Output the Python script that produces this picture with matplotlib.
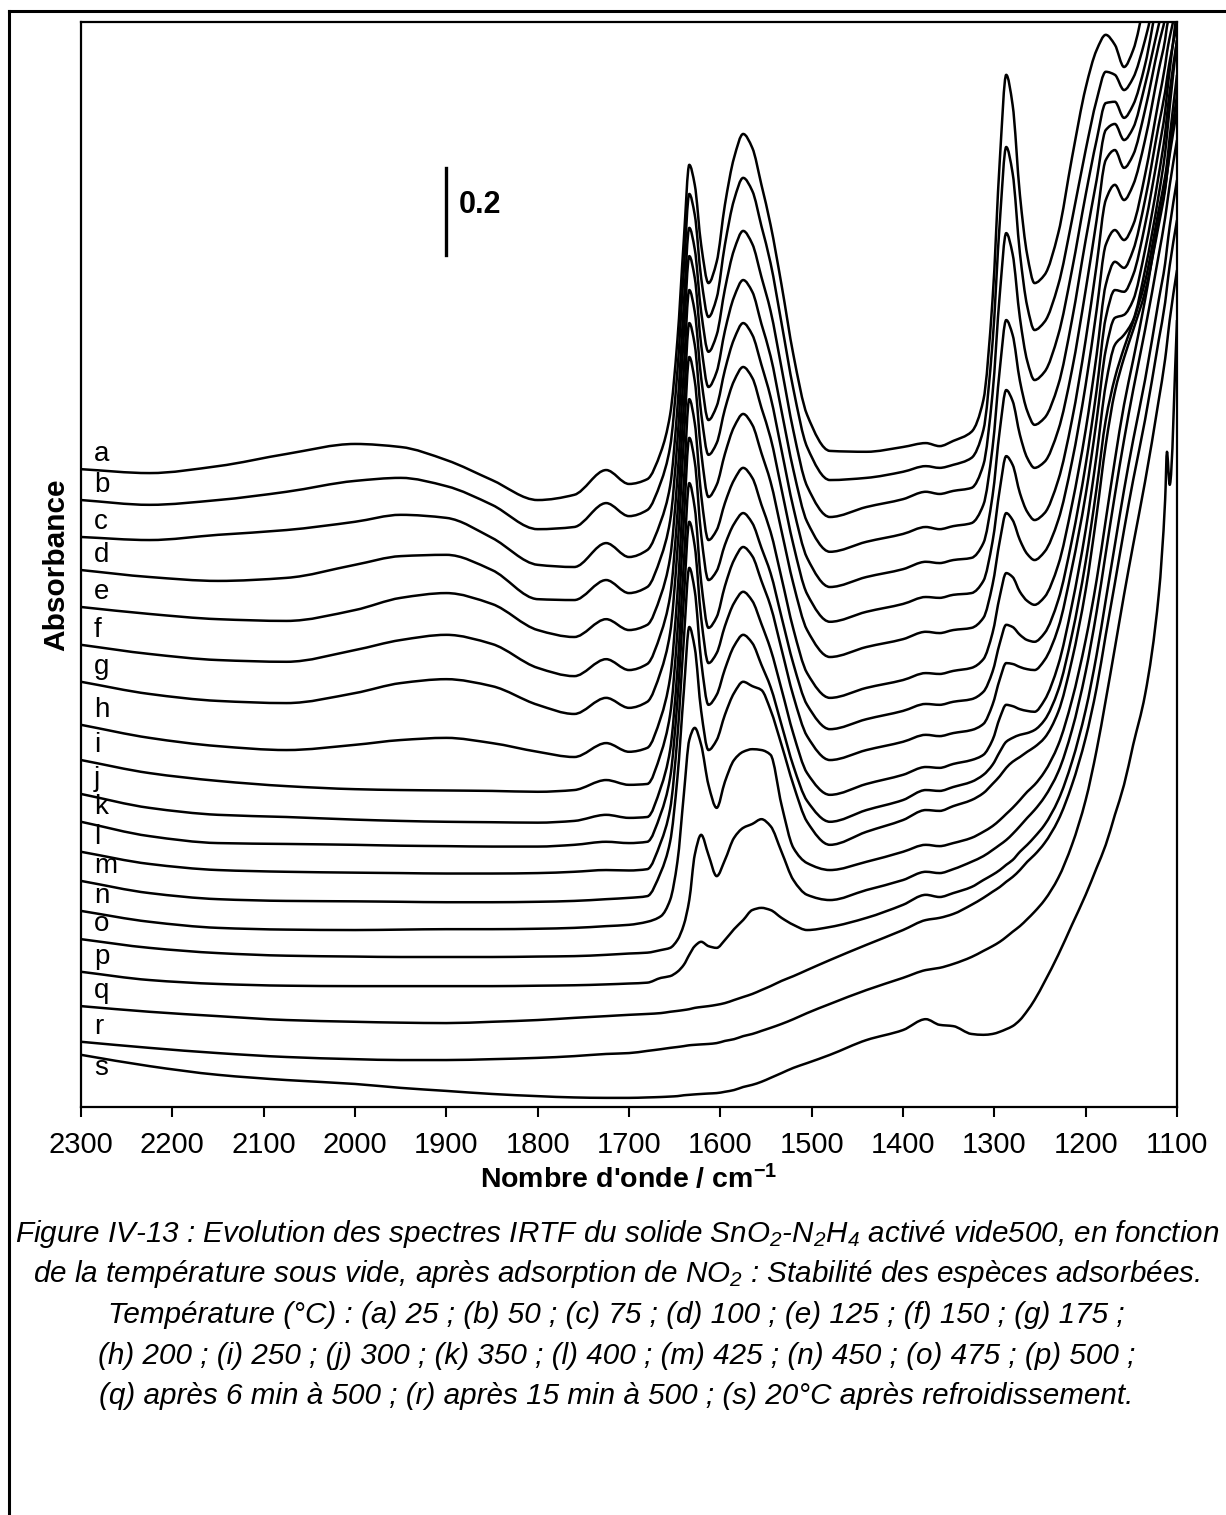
import numpy as np
import matplotlib
matplotlib.use("Agg")
import matplotlib.pyplot as plt
from matplotlib.lines import Line2D
from matplotlib.path import Path
from matplotlib.patches import PathPatch

plt.rcParams['font.family'] = ['Liberation Sans', 'DejaVu Sans']
plt.rcParams['mathtext.fontset'] = 'custom'
plt.rcParams['mathtext.rm'] = 'Liberation Sans:italic'
plt.rcParams['mathtext.it'] = 'Liberation Sans:italic'
plt.rcParams['mathtext.bf'] = 'Liberation Sans:bold'

# wavenumber grid (cm-1)
wavenumber = [2300, 2225, 2150, 2075, 2000, 1950, 1900, 1850, 1800, 1760,
              1725, 1700, 1680, 1665, 1655, 1647, 1640, 1634, 1628, 1621,
              1613, 1604, 1595, 1585, 1575, 1565, 1555, 1545, 1533, 1520,
              1505, 1480, 1440, 1400, 1375, 1360, 1345, 1325, 1312, 1302,
              1294, 1287, 1280, 1272, 1264, 1256, 1245, 1230, 1215, 1200,
              1188, 1178, 1168, 1158, 1148, 1135, 1120, 1113, 1111, 1108, 1100]

# offset spectra, absorbance in mAbs
a = [1467, 1458, 1474, 1502, 1525, 1518, 1488, 1442, 1396, 1408,
     1465, 1433, 1444, 1507, 1592, 1764, 1994, 2167, 2121, 1983,
     1895, 1944, 2075, 2183, 2238, 2206, 2121, 2029, 1891, 1730,
     1592, 1509, 1507, 1518, 1527, 1520, 1532, 1553, 1626, 1856,
     2178, 2374, 2305, 2098, 1960, 1895, 1914, 2010, 2183, 2344,
     2431, 2466, 2443, 2392, 2431, 2546, 2684, 2750, 2770, 2790, 2868]
b = [1396, 1385, 1396, 1415, 1440, 1447, 1428, 1385, 1329, 1334,
     1389, 1359, 1373, 1438, 1518, 1693, 1925, 2100, 2052, 1907,
     1817, 1861, 1983, 2086, 2137, 2107, 2026, 1941, 1803, 1651,
     1518, 1442, 1447, 1461, 1474, 1470, 1477, 1493, 1557, 1757,
     2036, 2208, 2148, 1964, 1842, 1787, 1806, 1891, 2040, 2201,
     2316, 2381, 2374, 2339, 2367, 2454, 2592, 2650, 2680, 2700, 2776]
c = [1311, 1304, 1316, 1327, 1346, 1362, 1355, 1309, 1247, 1242,
     1297, 1265, 1281, 1348, 1428, 1608, 1845, 2022, 1973, 1829,
     1737, 1776, 1881, 1971, 2015, 1985, 1909, 1831, 1700, 1555,
     1428, 1357, 1380, 1398, 1415, 1410, 1417, 1424, 1477, 1640,
     1870, 2010, 1962, 1815, 1716, 1672, 1691, 1776, 1925, 2098,
     2224, 2309, 2312, 2275, 2305, 2397, 2558, 2610, 2635, 2660, 2707]
d = [1235, 1219, 1210, 1217, 1247, 1267, 1270, 1235, 1168, 1166,
     1212, 1182, 1196, 1265, 1348, 1532, 1776, 1957, 1907, 1753,
     1656, 1691, 1785, 1863, 1902, 1875, 1801, 1727, 1601, 1465,
     1346, 1277, 1300, 1318, 1334, 1329, 1336, 1343, 1385, 1516,
     1697, 1810, 1776, 1670, 1601, 1569, 1585, 1661, 1810, 1994,
     2132, 2247, 2261, 2224, 2252, 2351, 2489, 2550, 2575, 2605, 2673]
e = [1150, 1134, 1122, 1118, 1143, 1171, 1182, 1157, 1097, 1081,
     1122, 1097, 1109, 1178, 1263, 1447, 1695, 1879, 1829, 1677,
     1580, 1612, 1695, 1766, 1803, 1776, 1707, 1633, 1511, 1378,
     1263, 1196, 1219, 1237, 1254, 1251, 1258, 1263, 1297, 1405,
     1557, 1649, 1624, 1546, 1493, 1470, 1484, 1557, 1695, 1879,
     2040, 2178, 2201, 2160, 2190, 2293, 2443, 2505, 2530, 2560, 2627]
f = [1063, 1042, 1028, 1024, 1051, 1074, 1086, 1065, 1010, 991,
     1030, 1005, 1019, 1090, 1175, 1364, 1615, 1803, 1753, 1596,
     1500, 1527, 1605, 1670, 1702, 1677, 1608, 1539, 1421, 1293,
     1180, 1116, 1139, 1157, 1173, 1171, 1178, 1182, 1210, 1300,
     1421, 1497, 1477, 1412, 1369, 1350, 1366, 1442, 1580, 1764,
     1937, 2086, 2121, 2086, 2121, 2224, 2385, 2455, 2485, 2515, 2581]
g = [978, 950, 934, 929, 952, 975, 984, 968, 925, 904,
     941, 918, 932, 1003, 1090, 1281, 1534, 1725, 1670, 1507,
     1403, 1431, 1502, 1564, 1594, 1569, 1504, 1438, 1325, 1203,
     1097, 1035, 1058, 1076, 1093, 1090, 1097, 1102, 1125, 1201,
     1302, 1366, 1350, 1304, 1272, 1258, 1277, 1350, 1484, 1661,
     1833, 1983, 2017, 1994, 2029, 2144, 2316, 2395, 2425, 2460, 2535]
h = [879, 849, 830, 821, 833, 844, 849, 837, 817, 805,
     837, 817, 826, 897, 987, 1180, 1435, 1628, 1573, 1408,
     1304, 1327, 1389, 1442, 1470, 1447, 1385, 1323, 1217, 1099,
     998, 941, 964, 982, 998, 996, 1003, 1010, 1030, 1090,
     1175, 1228, 1219, 1185, 1164, 1155, 1173, 1247, 1385, 1557,
     1730, 1891, 1944, 1930, 1971, 2086, 2259, 2335, 2365, 2405, 2489]
i = [798, 768, 750, 738, 731, 729, 728, 727, 725, 729,
     752, 741, 743, 814, 902, 1093, 1348, 1539, 1484, 1316,
     1212, 1233, 1293, 1341, 1366, 1343, 1286, 1228, 1127, 1019,
     925, 869, 892, 911, 927, 925, 932, 938, 955, 1001,
     1067, 1109, 1104, 1086, 1074, 1070, 1090, 1166, 1304, 1477,
     1649, 1815, 1879, 1875, 1914, 2029, 2201, 2290, 2330, 2385, 2523]
j = [720, 688, 672, 667, 661, 658, 656, 655, 654, 658,
     672, 665, 667, 736, 821, 1005, 1251, 1435, 1378, 1208,
     1102, 1127, 1198, 1258, 1288, 1267, 1210, 1152, 1053, 945,
     853, 798, 821, 840, 856, 853, 860, 867, 881, 925,
     984, 1021, 1019, 1012, 1007, 1005, 1028, 1102, 1240, 1408,
     1580, 1741, 1815, 1822, 1856, 1971, 2144, 2240, 2280, 2335, 2454]
k = [656, 623, 607, 605, 603, 601, 600, 599, 599, 603,
     610, 607, 610, 676, 757, 934, 1168, 1346, 1290, 1125,
     1021, 1044, 1106, 1159, 1185, 1164, 1111, 1053, 961, 858,
     768, 718, 743, 764, 782, 780, 789, 798, 810, 844,
     895, 925, 922, 915, 911, 909, 936, 1017, 1155, 1327,
     1500, 1661, 1753, 1776, 1810, 1925, 2098, 2195, 2235, 2300, 2454]
l = [587, 559, 545, 541, 539, 538, 537, 537, 538, 541,
     545, 544, 547, 610, 685, 851, 1074, 1240, 1187, 1026,
     925, 948, 1007, 1060, 1086, 1067, 1017, 966, 879, 784,
     704, 656, 683, 706, 729, 727, 736, 748, 764, 787,
     817, 840, 849, 856, 860, 867, 890, 959, 1086, 1254,
     1424, 1580, 1677, 1746, 1806, 1898, 2063, 2140, 2170, 2230, 2374]
m = [520, 492, 478, 474, 473, 472, 471, 471, 472, 474,
     478, 481, 485, 541, 610, 757, 955, 1104, 1056, 911,
     821, 844, 902, 952, 978, 968, 959, 913, 833, 741,
     656, 603, 633, 660, 683, 681, 692, 706, 722, 743,
     761, 780, 794, 805, 817, 828, 849, 909, 1028, 1189,
     1362, 1523, 1645, 1723, 1787, 1875, 2029, 2110, 2145, 2200, 2328]
n = [451, 426, 412, 408, 407, 408, 409, 409, 410, 412,
     416, 419, 426, 439, 476, 564, 718, 844, 872, 833,
     741, 688, 748, 798, 817, 823, 821, 810, 695, 596,
     561, 545, 564, 587, 603, 600, 607, 619, 633, 646,
     660, 674, 688, 706, 725, 741, 771, 833, 936, 1074,
     1212, 1350, 1488, 1615, 1718, 1856, 2040, 2115, 2145, 2190, 2293]
o = [386, 366, 354, 348, 346, 345, 345, 345, 346, 347,
     350, 353, 355, 361, 366, 384, 419, 476, 580, 626,
     580, 531, 568, 619, 642, 651, 662, 646, 587, 522,
     488, 476, 499, 522, 541, 538, 547, 564, 577, 591,
     603, 614, 628, 646, 665, 683, 713, 771, 867, 1001,
     1139, 1274, 1408, 1534, 1649, 1787, 1960, 2045, 2075, 2120, 2224]
p = [311, 292, 283, 279, 278, 278, 278, 278, 279, 280,
     282, 284, 286, 297, 301, 311, 327, 350, 370, 380,
     370, 366, 384, 409, 430, 453, 458, 453, 435, 419,
     407, 414, 435, 465, 488, 483, 492, 506, 522, 534,
     545, 557, 568, 587, 603, 621, 649, 706, 794, 913,
     1040, 1166, 1293, 1419, 1534, 1672, 1856, 1940, 1975, 2025, 2132]
q = [232, 219, 209, 200, 196, 194, 193, 196, 200, 205,
     209, 212, 214, 216, 219, 221, 223, 225, 228, 230,
     232, 235, 239, 246, 253, 260, 269, 278, 290, 301,
     315, 338, 373, 407, 430, 435, 444, 465, 481, 495,
     506, 518, 529, 545, 564, 580, 607, 660, 741, 849,
     964, 1086, 1205, 1327, 1442, 1580, 1764, 1850, 1885, 1935, 2040]
r = [150, 136, 124, 115, 110, 108, 108, 110, 113, 117,
     122, 124, 129, 133, 136, 138, 140, 142, 143, 144,
     145, 147, 152, 156, 163, 168, 175, 182, 191, 202,
     216, 237, 269, 297, 315, 320, 329, 345, 359, 370,
     380, 391, 403, 416, 432, 449, 476, 527, 603, 706,
     821, 936, 1056, 1178, 1293, 1438, 1626, 1720, 1755, 1810, 1925]
s = [120, 94, 74, 62, 53, 44, 37, 30, 25, 22,
     21, 21, 22, 23, 24, 25, 27, 28, 29, 30,
     31, 32, 35, 39, 46, 51, 58, 67, 78, 90,
     101, 120, 154, 177, 202, 189, 186, 168, 166, 168,
     173, 179, 186, 200, 221, 246, 288, 350, 419, 488,
     550, 603, 672, 741, 833, 948, 1178, 1396, 1507, 1431, 1810]

spectra = [a, b, c, d, e, f, g, h, i, j, k, l, m, n, o, p, q, r, s]
names = list("abcdefghijklmnopqrs")

caption = [
    "Figure IV-13 : Evolution des spectres IRTF du solide SnO$_2$-N$_2$H$_4$ activé vide500, en fonction",
    "de la température sous vide, après adsorption de NO$_2$ : Stabilité des espèces adsorbées.",
    "Température (°C) : (a) 25 ; (b) 50 ; (c) 75 ; (d) 100 ; (e) 125 ; (f) 150 ; (g) 175 ;",
    "(h) 200 ; (i) 250 ; (j) 300 ; (k) 350 ; (l) 400 ; (m) 425 ; (n) 450 ; (o) 475 ; (p) 500 ;",
    "(q) après 6 min à 500 ; (r) après 15 min à 500 ; (s) 20°C après refroidissement.",
]


def smooth_path(xs, ys):
    # monotone cubic (pchip-like) through the points, drawn as bezier segments
    xs = np.asarray(xs, float)[::-1]
    ys = np.asarray(ys, float)[::-1]
    hk = np.diff(xs)
    dk = np.diff(ys) / hk
    mk = np.zeros_like(ys)
    for t in range(1, len(xs) - 1):
        if dk[t - 1] * dk[t] > 0:
            w1 = 2 * hk[t] + hk[t - 1]
            w2 = hk[t] + 2 * hk[t - 1]
            mk[t] = (w1 + w2) / (w1 / dk[t - 1] + w2 / dk[t])
    mk[0], mk[-1] = dk[0], dk[-1]
    verts = [(xs[0], ys[0])]
    codes = [Path.MOVETO]
    for t in range(len(xs) - 1):
        hh = hk[t]
        verts += [(xs[t] + hh / 3, ys[t] + mk[t] * hh / 3),
                  (xs[t + 1] - hh / 3, ys[t + 1] - mk[t + 1] * hh / 3),
                  (xs[t + 1], ys[t + 1])]
        codes += [Path.CURVE4] * 3
    return Path(verts, codes)


W, H = 1226, 1515
fig = plt.figure(figsize=(W / 100, H / 100), dpi=100)
ax = fig.add_axes([81 / W, 408 / H, 1096 / W, 1085 / H])

for name, sp in zip(names, spectra):
    y = np.array(sp) / 1000.0
    ax.add_patch(PathPatch(smooth_path(wavenumber, y), fill=False,
                           edgecolor='black', lw=1.8, joinstyle='round'))
    if name == 's':
        ax.text(2286, y[0] - 0.03, name, fontsize=20, ha='left', va='center')
    else:
        ax.text(2286, y[0] + 0.035, name, fontsize=20, ha='left', va='center')

# 0.2 absorbance scale bar
ax.plot([1900, 1900], [1.96, 2.16], color='black', lw=2.4)
ax.text(1886, 2.075, '0.2', fontsize=22, fontweight='bold', ha='left', va='center')

ax.set_xlim(2300, 1100)
ax.set_ylim(0, 2.4955)
ax.set_xticks(np.arange(2300, 1099, -100))
ax.set_yticks([])
ax.tick_params(axis='x', direction='out', length=7, width=1.5, labelsize=21, pad=10)
for sp_ in ax.spines.values():
    sp_.set_linewidth(1.6)
ax.set_xlabel(r"Nombre d'onde / cm$^{\mathbf{-1}}$", fontsize=20.5, fontweight='bold', labelpad=4)
ax.set_ylabel('Absorbance', fontsize=21.5, fontweight='bold', labelpad=8)

for idx, line in enumerate(caption):
    fig.text(0.503, (H - 1234 - 40.5 * idx) / H, line, ha='center', va='center',
             fontsize=21.3, style='italic')

# outer frame
fig.add_artist(Line2D([9 / W, 1.0], [(H - 11) / H] * 2, color='black', lw=2.2))
fig.add_artist(Line2D([9 / W] * 2, [0.0, (H - 11) / H], color='black', lw=2.2))

fig.savefig('out.png', dpi=100)
